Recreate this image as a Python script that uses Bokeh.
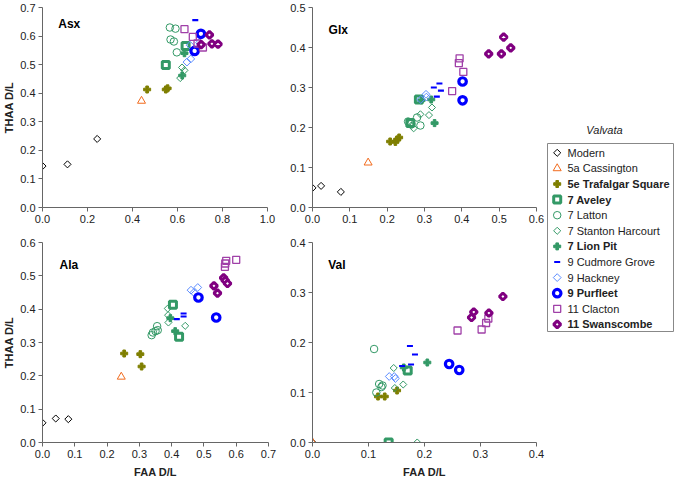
import numpy as np
from bokeh.plotting import figure
from bokeh.layouts import row, column
from bokeh.models import Range1d, FixedTicker, PrintfTickFormatter, Label, ColumnDataSource
from bokeh.core.properties import value
from bokeh.embed import file_html
from bokeh.resources import INLINE

# ---------------- data (x = FAA D/L, y = THAA D/L) per series and panel ----------------
PANELS = ["Asx", "Glx", "Ala", "Val"]

modern = {
    "Asx": ([0.0, 0.111, 0.243], [0.145, 0.151, 0.240]),
    "Glx": ([0.0, 0.023, 0.076], [0.049, 0.054, 0.039]),
    "Ala": ([0.0, 0.041, 0.080], [0.059, 0.072, 0.070]),
    "Val": ([0.0], [0.0]),
}
cassington = {
    "Asx": ([0.440], [0.373]),
    "Glx": ([0.149], [0.112]),
    "Ala": ([0.244], [0.197]),
    "Val": ([0.0], [0.0]),
}
trafalgar = {
    "Asx": ([0.465, 0.548, 0.556], [0.413, 0.413, 0.417]),
    "Glx": ([0.208, 0.222, 0.227, 0.232], [0.165, 0.164, 0.170, 0.175]),
    "Ala": ([0.253, 0.303, 0.307], [0.267, 0.265, 0.228]),
    "Val": ([0.117, 0.129, 0.151], [0.092, 0.092, 0.104]),
}
aveley = {
    "Asx": ([0.548, 0.636], [0.499, 0.565]),
    "Glx": ([0.285, 0.262], [0.270, 0.211]),
    "Ala": ([0.404, 0.423], [0.413, 0.317]),
    "Val": ([0.170, 0.136], [0.144, 0.0]),
}
latton = {
    "Asx": ([0.566, 0.591, 0.569, 0.584, 0.597], [0.630, 0.626, 0.588, 0.581, 0.543]),
    "Glx": ([0.256, 0.265, 0.280, 0.289], [0.215, 0.209, 0.225, 0.205]),
    "Ala": ([0.338, 0.342, 0.350, 0.357, 0.355], [0.322, 0.330, 0.334, 0.337, 0.349]),
    "Val": ([0.110, 0.114, 0.119, 0.123, 0.125], [0.187, 0.100, 0.117, 0.111, 0.114]),
}
stanton = {
    "Asx": ([0.620, 0.631, 0.612], [0.490, 0.480, 0.453]),
    "Glx": ([0.289, 0.312, 0.320, 0.271, 0.265], [0.233, 0.231, 0.250, 0.198, 0.205]),
    "Ala": ([0.388, 0.389, 0.390, 0.442], [0.402, 0.382, 0.360, 0.350]),
    "Val": ([0.145, 0.162, 0.147, 0.187], [0.149, 0.116, 0.109, 0.0]),
}
lionpit = {
    "Asx": ([0.631, 0.621], [0.540, 0.462]),
    "Glx": ([0.292, 0.318, 0.327], [0.268, 0.270, 0.211]),
    "Ala": ([0.396, 0.411], [0.373, 0.334]),
    "Val": ([0.205, 0.163], [0.160, 0.150]),
}
cudmore = {
    "Asx": ([0.679], [0.656]),
    "Glx": ([0.325, 0.340, 0.333, 0.344], [0.300, 0.310, 0.277, 0.292]),
    "Ala": ([0.416, 0.437, 0.437], [0.370, 0.387, 0.378]),
    "Val": ([0.174, 0.183, 0.176, 0.160], [0.193, 0.176, 0.156, 0.153]),
}
hackney = {
    "Asx": ([0.642, 0.659, 0.656, 0.698], [0.509, 0.520, 0.568, 0.577]),
    "Glx": ([0.304, 0.305, 0.290], [0.283, 0.276, 0.270]),
    "Ala": ([0.460, 0.469, 0.481], [0.457, 0.450, 0.465]),
    "Val": ([0.137, 0.146, 0.148], [0.132, 0.132, 0.128]),
}
purfleet = {
    "Asx": ([0.704, 0.676], [0.608, 0.548]),
    "Glx": ([0.402, 0.402], [0.315, 0.268]),
    "Ala": ([0.483, 0.538], [0.435, 0.375]),
    "Val": ([0.244, 0.262], [0.157, 0.145]),
}
clacton = {
    "Asx": ([0.631, 0.668, 0.689, 0.713], [0.624, 0.597, 0.574, 0.560]),
    "Glx": ([0.394, 0.392, 0.404, 0.374], [0.373, 0.361, 0.339, 0.291]),
    "Ala": ([0.565, 0.566, 0.569, 0.600], [0.527, 0.537, 0.545, 0.548]),
    "Val": ([0.259, 0.302, 0.310, 0.314], [0.224, 0.226, 0.239, 0.248]),
}
swanscombe = {
    "Asx": ([0.705, 0.742, 0.753, 0.780], [0.570, 0.604, 0.573, 0.572]),
    "Glx": ([0.472, 0.506, 0.512, 0.531], [0.384, 0.384, 0.426, 0.399]),
    "Ala": ([0.531, 0.542, 0.561, 0.566, 0.573], [0.470, 0.448, 0.494, 0.486, 0.477]),
    "Val": ([0.284, 0.288, 0.315, 0.340], [0.250, 0.261, 0.259, 0.292]),
}

x_ranges = {"Asx": (0, 1.0), "Glx": (0, 0.6), "Ala": (0, 0.7), "Val": (0, 0.4)}
y_ranges = {"Asx": (0, 0.7), "Glx": (0, 0.5), "Ala": (0, 0.6), "Val": (0, 0.4)}
x_ticks = {"Asx": [0, 0.2, 0.4, 0.6, 0.8, 1.0],
           "Glx": [0, 0.1, 0.2, 0.3, 0.4, 0.5, 0.6],
           "Ala": [0, 0.1, 0.2, 0.3, 0.4, 0.5, 0.6, 0.7],
           "Val": [0, 0.1, 0.2, 0.3, 0.4]}
y_ticks = {"Asx": [0, 0.1, 0.2, 0.3, 0.4, 0.5, 0.6, 0.7],
           "Glx": [0, 0.1, 0.2, 0.3, 0.4, 0.5],
           "Ala": [0, 0.1, 0.2, 0.3, 0.4, 0.5, 0.6],
           "Val": [0, 0.1, 0.2, 0.3, 0.4]}
x_label = "FAA D/L"
y_label = "THAA D/L"
legend_title = "Valvata"

# ---------------- styles ----------------
R = np.pi / 4
GREEN = "#339966"
series = [
    ("Modern", modern, dict(marker="square", angle=R, size=5, line_color="black", fill_color=None, line_width=1), "normal"),
    ("5a Cassington", cassington, dict(marker="triangle", size=8, line_color="#f26b1d", fill_color=None, line_width=1), "normal"),
    ("5e Trafalgar Square", trafalgar, dict(marker="plus", size=7, line_color="#7f7f00", fill_color="#7f7f00", line_width=1), "bold"),
    ("7 Aveley", aveley, dict(marker="square", size=7, line_color=GREEN, fill_color="white", line_width=3), "bold"),
    ("7 Latton", latton, dict(marker="circle", size=7.5, line_color=GREEN, fill_color=None, line_width=1), "normal"),
    ("7 Stanton Harcourt", stanton, dict(marker="square", angle=R, size=5, line_color=GREEN, fill_color=None, line_width=1), "normal"),
    ("7 Lion Pit", lionpit, dict(marker="plus", size=7, line_color=GREEN, fill_color=GREEN, line_width=1), "bold"),
    ("9 Cudmore Grove", cudmore, dict(marker="dash", size=6, line_color="#0000ff", fill_color=None, line_width=2.2), "normal"),
    ("9 Hackney", hackney, dict(marker="square", angle=R, size=5.5, line_color="#5b8cff", fill_color=None, line_width=1), "normal"),
    ("9 Purfleet", purfleet, dict(marker="circle", size=7.5, line_color="#0000ff", fill_color="white", line_width=3.2), "bold"),
    ("11 Clacton", clacton, dict(marker="square", size=7, line_color="#a040a8", fill_color=None, line_width=1.3), "normal"),
    ("11 Swanscombe", swanscombe, dict(marker="square", angle=R, size=5, line_color="#800080", fill_color="white", line_width=3), "bold"),
]

FONT = "Liberation Sans"
AXIS_COLOR = "#666666"
TEXT_COLOR = "#222222"

# panel geometry: (width, height, left, right, top, bottom borders)
geom = {
    "Asx": (287, 230, 42, 20, 7, 23),
    "Glx": (258, 230, 24, 9, 7, 23),
    "Ala": (287, 250, 42, 19, 12, 38),
    "Val": (258, 250, 24, 9, 12, 38),
}
label_pos = {"Asx": (0.07, 0.644), "Glx": (0.043, 0.443), "Ala": (0.053, 0.534), "Val": (0.028, 0.356)}


def make_panel(name):
    w, h, bl, br, bt, bb = geom[name]
    p = figure(width=w, height=h, x_range=Range1d(*x_ranges[name]), y_range=Range1d(*y_ranges[name]),
               output_backend="svg", toolbar_location=None,
               min_border_left=bl, min_border_right=br, min_border_top=bt, min_border_bottom=bb)
    p.xgrid.visible = False
    p.ygrid.visible = False
    p.outline_line_color = None
    for ax, ticks in ((p.xaxis[0], x_ticks[name]), (p.yaxis[0], y_ticks[name])):
        ax.ticker = FixedTicker(ticks=ticks)
        ax.formatter = PrintfTickFormatter(format="%.1f")
        ax.axis_line_color = AXIS_COLOR
        ax.major_tick_line_color = AXIS_COLOR
        ax.major_tick_out = 4
        ax.major_tick_in = 0
        ax.minor_tick_line_color = None
        ax.major_label_text_font = FONT
        ax.major_label_text_font_size = "11px"
        ax.major_label_text_color = TEXT_COLOR
        ax.axis_label_text_font = FONT
        ax.axis_label_text_font_size = "11px"
        ax.axis_label_text_font_style = "bold"
        ax.axis_label_text_color = TEXT_COLOR
    p.xaxis.major_label_standoff = 3
    p.yaxis.major_label_standoff = 3
    if name in ("Ala", "Val"):
        p.xaxis.axis_label = x_label
        p.xaxis.axis_label_standoff = 5
    if name in ("Asx", "Ala"):
        p.yaxis.axis_label = y_label
        p.yaxis.axis_label_standoff = 2
    for lab, data, style, _ in series:
        xs, ys = data[name]
        p.scatter(x=xs, y=ys, **style)
    lx, ly = label_pos[name]
    p.add_layout(Label(x=lx, y=ly, text=name, text_font=FONT, text_font_size="12px",
                       text_font_style="bold", text_color="black", text_baseline="middle"))
    return p


panels = {n: make_panel(n) for n in PANELS}

# ---------------- legend panel ----------------
leg = figure(width=129, height=480, x_range=Range1d(0, 129), y_range=Range1d(480, 0),
             output_backend="svg", toolbar_location=None, min_border=0)
leg.axis.visible = False
leg.xgrid.visible = False
leg.ygrid.visible = False
leg.outline_line_color = None
leg.quad(left=[2], right=[128], top=[143], bottom=[331], fill_color=None, line_color="#888888", line_width=1)
leg.text(x=[59], y=[129], text=[legend_title], text_font=value(FONT), text_font_size="11px",
         text_font_style="italic", text_align="center", text_baseline="middle", text_color=TEXT_COLOR)
names, fstyles, ys_leg = [], [], []
for i, (lab, data, style, fs) in enumerate(series):
    yy = 152.3 + 15.6 * i
    leg.scatter(x=[11.7], y=[yy], **style)
    names.append(lab)
    fstyles.append(fs)
    ys_leg.append(yy)
src = ColumnDataSource(dict(x=[22] * len(names), y=ys_leg, text=names, fs=fstyles))
leg.text(x="x", y="y", text="text", source=src, text_font=value(FONT), text_font_size="11px",
         text_font_style="fs", text_baseline="middle", text_color=TEXT_COLOR)

layout = row(column(row(panels["Asx"], panels["Glx"]), row(panels["Ala"], panels["Val"])), leg)

open("out.html", "w").write(file_html(layout, INLINE))
